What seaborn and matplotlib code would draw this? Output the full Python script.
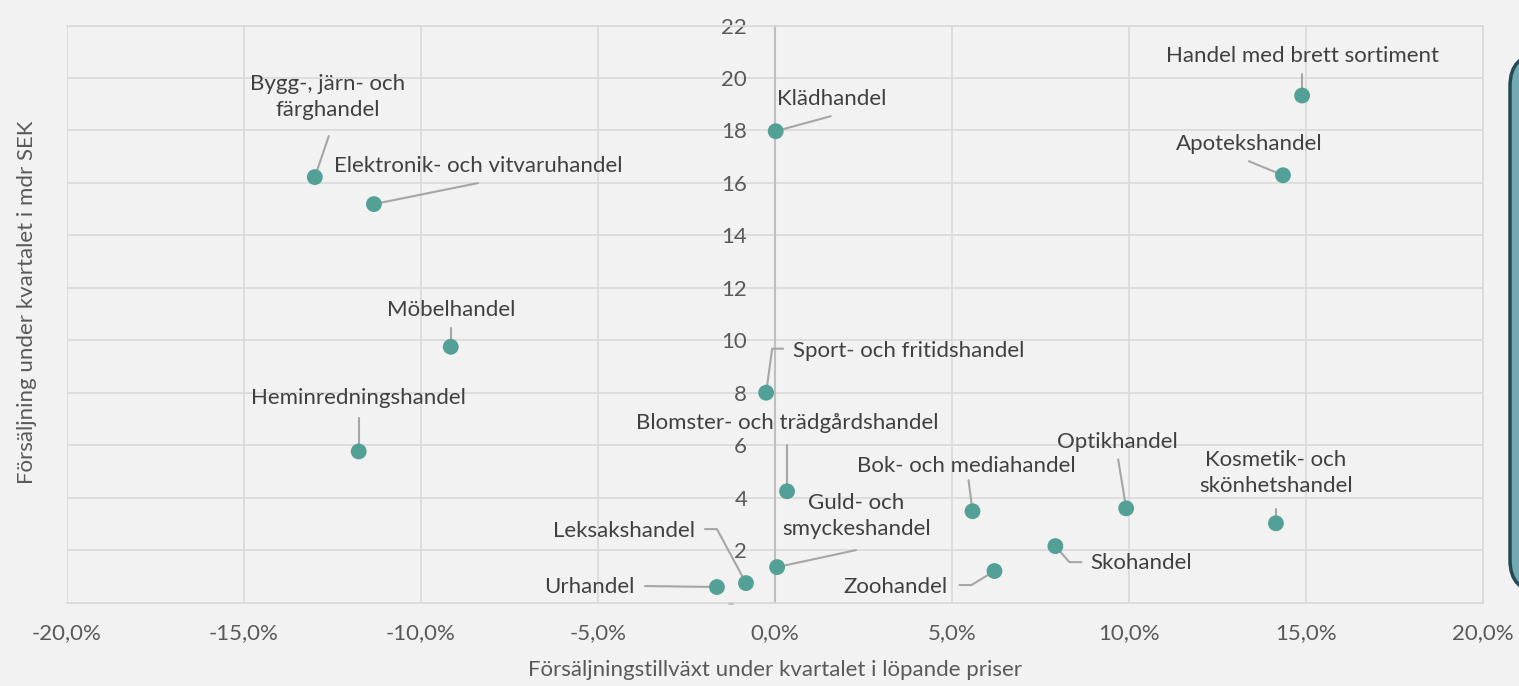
import numpy as np
import pandas as pd
import seaborn as sns
from matplotlib import pyplot as plt
from matplotlib.patches import FancyBboxPatch
from matplotlib.ticker import FuncFormatter
from matplotlib.transforms import IdentityTransform

# Data
branches = [
    "Handel med brett sortiment",
    "Apotekshandel",
    "Klädhandel",
    "Bygg-, järn- och\nfärghandel",
    "Elektronik- och vitvaruhandel",
    "Möbelhandel",
    "Heminredningshandel",
    "Sport- och fritidshandel",
    "Blomster- och trädgårdshandel",
    "Bok- och mediahandel",
    "Optikhandel",
    "Kosmetik- och\nskönhetshandel",
    "Skohandel",
    "Zoohandel",
    "Guld- och\nsmyckeshandel",
    "Leksakshandel",
    "Urhandel",
]
growth_pct = [14.89, 14.35, 0.02, -13.0, -11.33, -9.16, -11.76, -0.25, 0.34,
              5.58, 9.92, 14.15, 7.92, 6.20, 0.06, -0.82, -1.64]
sales_bn = [19.33, 16.29, 17.97, 16.22, 15.19, 9.75, 5.76, 8.00, 4.24,
            3.48, 3.59, 3.02, 2.15, 1.20, 1.35, 0.74, 0.59]

x_ticks = [-20, -15, -10, -5, 0, 5, 10, 15, 20]
y_ticks = [0, 2, 4, 6, 8, 10, 12, 14, 16, 18, 20, 22]
y_tick_labels = ["-  "] + [str(v) for v in y_ticks[1:]]

# Label layout in pixels relative to each point: text offset, alignment, leader path
label_layout = [
    ((0, 40), "center", [(0, 22), (0, 0)]),
    ((-34, 31), "center", [(-34, 14), (0, 0)]),
    ((56, 32), "center", [(55, 15), (0, 0)]),
    ((13, 80), "center", [(14, 41), (0, 0)]),
    ((104, 38), "center", [(104, 21), (0, 0)]),
    ((0, 37), "center", [(0, 19), (0, 0)]),
    ((0, 53), "center", [(0, 33), (0, 0)]),
    ((27, 42), "left", [(17, 44), (6, 44), (0, 0)]),
    ((0, 68), "center", [(0, 46), (0, 0)]),
    ((-6, 45), "center", [(-4, 31), (0, 0)]),
    ((-9, 66), "center", [(-8, 49), (0, 0)]),
    ((0, 50), "center", [(0, 14), (0, 0)]),
    ((35, -17), "left", [(26, -16), (14, -16), (0, 0)]),
    ((-47, -16), "right", [(-35, -14), (-23, -14), (0, 0)]),
    ((79, 51), "center", [(79, 17), (0, 0)]),
    ((-51, 52), "right", [(-41, 54), (-29, 54), (0, 0)]),
    ((-82, 0), "right", [(-72, 1), (0, 0)]),
]

df = pd.DataFrame({"branch": branches, "growth": growth_pct, "sales": sales_bn})

sns.set_theme(style="white")
plt.rcParams["font.family"] = ["Lato", "DejaVu Sans"]

bg = "#f2f2f2"
grid_c = "#d9d9d9"
text_c = "#404040"
tick_c = "#595959"
fs = 16

fig = plt.figure(figsize=(15.19, 6.86), dpi=100, facecolor=bg)
ax = fig.add_axes([67 / 1519, 83.5 / 686, 1416 / 1519, 577 / 686])
ax.set_facecolor(bg)

sns.scatterplot(data=df, x="growth", y="sales", ax=ax, s=130,
                color="#52a096", edgecolor="none", zorder=4)

ax.set_xlim(-20, 20)
ax.set_ylim(0, 22)
ax.set_xticks(x_ticks)
ax.xaxis.set_major_formatter(
    FuncFormatter(lambda v, _: f"{v:.1f}%".replace(".", ",")))
ax.set_yticks(y_ticks)
ax.set_yticklabels(y_tick_labels)
ax.grid(True, color=grid_c, linewidth=1.2, zorder=0)
ax.set_axisbelow(True)
for sp in ax.spines.values():
    sp.set_color(grid_c)
    sp.set_linewidth(1.2)
# value axis runs through zero growth; the -20 % gridline closes the frame
ax.spines["left"].set_position(("data", 0))
ax.spines["left"].set_color("#bfbfbf")
ax.spines["left"].set_linewidth(1.5)
ax.spines["left"].set_zorder(1)

ax.tick_params(axis="x", length=0, pad=15, labelsize=fs, labelcolor=tick_c)
ax.tick_params(axis="y", length=0, pad=20, labelsize=fs, labelcolor=tick_c)

ax.set_xlabel("Försäljningstillväxt under kvartalet i löpande priser",
              fontsize=fs, color=tick_c)
ax.xaxis.set_label_coords(0.5, -0.1)
ax.set_ylabel("Försäljning under kvartalet i mdr SEK", fontsize=fs, color=tick_c)
ax.yaxis.set_label_coords(-0.0215, 0.52)

# Labels and leader lines
for (name, gx, sy), (toff, ha, path) in zip(
        zip(branches, growth_pct, sales_bn), label_layout):
    ax.annotate(name, xy=(gx, sy), xytext=toff, textcoords="offset pixels",
                ha=ha, va="center", multialignment="center", fontsize=fs,
                color=text_c, linespacing=1.4, zorder=5)
    p = ax.transData.transform((gx, sy))
    pts = np.array([p + np.array(o) for o in path])
    d = ax.transData.inverted().transform(pts)
    ax.plot(d[:, 0], d[:, 1], color="#a6a6a6", linewidth=1.5, zorder=3)

# Decorative box cut off at the right edge (pixel coordinates)
box = FancyBboxPatch((1510, 94), 80, 538,
                     boxstyle="round,pad=0,rounding_size=32",
                     transform=IdentityTransform(), facecolor="#72a9b3",
                     edgecolor="#244b55", linewidth=2.5, clip_on=False)
fig.patches.append(box)

fig.savefig("out.png", dpi=100, facecolor=bg)
